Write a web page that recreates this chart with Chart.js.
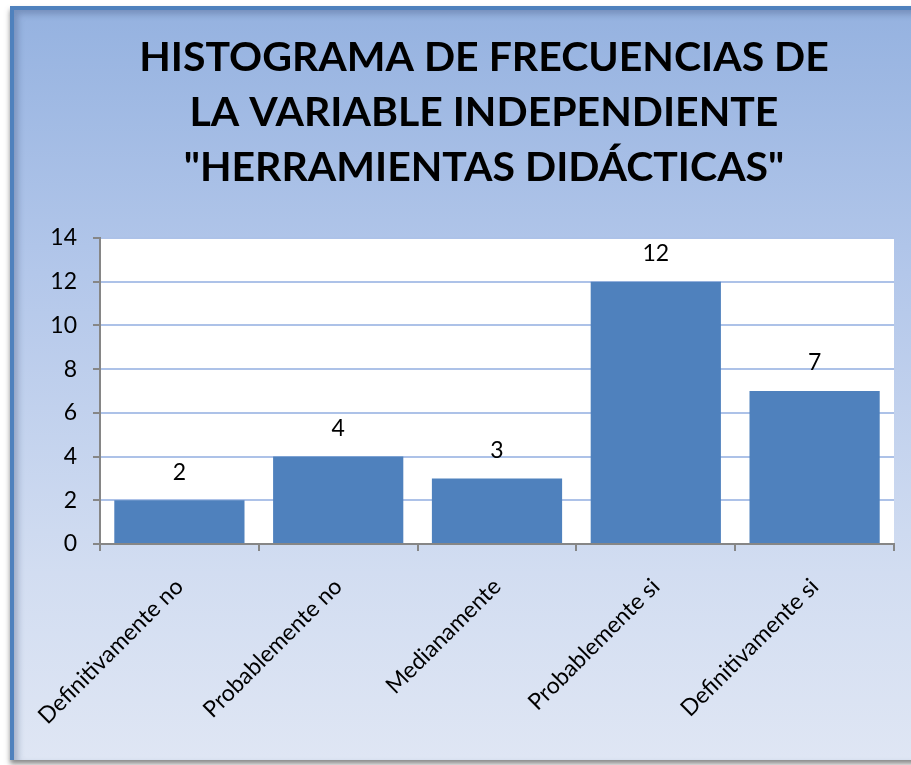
<!DOCTYPE html>
<html>
<head>
<meta charset="utf-8">
<script src="https://cdn.jsdelivr.net/npm/chart.js@4/dist/chart.umd.min.js"></script>
<style>
  html, body { margin: 0; padding: 0; background: #fff; }
  body { width: 911px; height: 765px; position: relative; overflow: hidden; }
  .marco {
    position: absolute; left: 10px; top: 6px; width: 910px; height: 750px;
    border-left: 4px solid #4f81bd; border-top: 4px solid #4f81bd;
    background: linear-gradient(to bottom, #95b2e0 0%, #b3c7ea 35%, #d2ddf1 75%, #dfe6f4 100%);
    box-shadow: inset 4px 4px 6px rgba(60,80,120,0.35), 0 4px 5px rgba(90,90,90,0.7);
  }
  #grafico { position: absolute; left: 0; top: 0; }
</style>
</head>
<body>
<div class="marco"></div>
<canvas id="grafico" width="911" height="765"></canvas>
<script>
const categorias = ["Definitivamente no", "Probablemente no", "Medianamente", "Probablemente si", "Definitivamente si"];
const frecuencias = [2, 4, 3, 12, 7];
const titulo = ["HISTOGRAMA DE FRECUENCIAS DE", "LA VARIABLE INDEPENDIENTE", "\"HERRAMIENTAS DIDÁCTICAS\""];
const marcasY = [0, 2, 4, 6, 8, 10, 12, 14];

const fuente = "Lato, 'Liberation Sans', sans-serif";
const gris = "#868686";

// fondo blanco del area de trazado + titulo (centrado sobre el marco, no sobre el canvas)
const fondoArea = {
  id: "fondoArea",
  beforeDraw(chart) {
    const { ctx, chartArea } = chart;
    ctx.save();
    ctx.fillStyle = "#ffffff";
    ctx.fillRect(chartArea.left, chartArea.top, chartArea.right - chartArea.left, chartArea.bottom - chartArea.top);
    ctx.fillStyle = "#000";
    ctx.font = "bold 41px " + fuente;
    ctx.textAlign = "center";
    ctx.textBaseline = "middle";
    titulo.forEach((linea, i) => ctx.fillText(linea, 484, 58 + i * 55));
    ctx.restore();
  }
};

// etiquetas de valor encima de cada barra
const etiquetas = {
  id: "etiquetas",
  afterDatasetsDraw(chart) {
    const ctx = chart.ctx;
    const meta = chart.getDatasetMeta(0);
    ctx.save();
    ctx.font = "23px " + fuente;
    ctx.fillStyle = "#000";
    ctx.textAlign = "center";
    ctx.textBaseline = "middle";
    meta.data.forEach((barra, i) => {
      ctx.fillText(String(frecuencias[i]), barra.x, barra.y - 28);
    });
    ctx.restore();
  }
};

new Chart(document.getElementById("grafico"), {
  type: "bar",
  data: {
    labels: categorias,
    datasets: [{
      data: frecuencias,
      backgroundColor: "#4f81bd",
      borderWidth: 0,
      barPercentage: 0.82,
      categoryPercentage: 1
    }]
  },
  options: {
    responsive: false,
    animation: false,
    layout: { padding: { left: 0, right: 17, top: 238, bottom: 0 } },
    plugins: {
      legend: { display: false },
      tooltip: { enabled: false }
    },
    scales: {
      x: {
        grid: { display: true, drawOnChartArea: false, offset: true, tickLength: 7, tickColor: gris, lineWidth: 2 },
        border: { color: gris, width: 2 },
        ticks: {
          color: "#000",
          font: { family: fuente, size: 23 },
          minRotation: 45, maxRotation: 45,
          autoSkip: false,
          padding: 22
        },
        afterFit(escala) { escala.height = 221; }
      },
      y: {
        min: 0, max: 14,
        afterBuildTicks(escala) { escala.ticks = marcasY.map(v => ({ value: v })); },
        grid: { color: "#adc2e8", lineWidth: 2, tickLength: 7, tickColor: gris },
        border: { color: gris, width: 2 },
        ticks: { color: "#000", font: { family: fuente, size: 23 }, padding: 16 },
        afterFit(escala) { escala.width = 100; }
      }
    }
  },
  plugins: [fondoArea, etiquetas]
});
</script>
</body>
</html>
